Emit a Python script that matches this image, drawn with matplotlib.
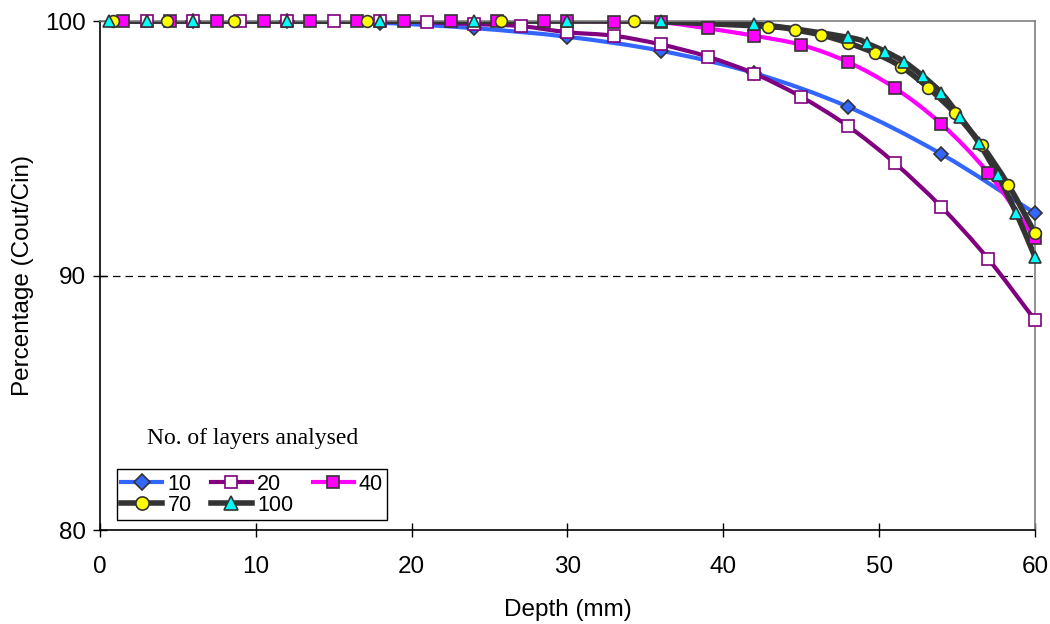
import numpy as np
import matplotlib
matplotlib.use("Agg")
import matplotlib.pyplot as plt
from matplotlib.path import Path
from matplotlib.patches import PathPatch
from matplotlib.lines import Line2D

plt.rcParams['font.family'] = ['Liberation Sans', 'DejaVu Sans']

# depth (mm) and percentage (Cout/Cin) for each number of layers analysed
x10 = [6, 12, 18, 24, 30, 36, 42, 48, 54, 60]
y10 = [100, 100, 99.93, 99.72, 99.38, 98.83, 97.95, 96.63, 94.77, 92.45]

x20 = [3, 6, 9, 12, 15, 18, 21, 24, 27, 30, 33, 36, 39, 42, 45, 48, 51, 54, 57, 60]
y20 = [100, 100, 100, 100, 100, 100, 99.95, 99.88, 99.8, 99.56, 99.42, 99.08,
       98.6, 97.93, 97.02, 95.87, 94.42, 92.69, 90.65, 88.25]

x40 = [1.5, 4.5, 7.5, 10.5, 13.5, 16.5, 19.5, 22.5, 25.5, 28.5, 30, 33, 36, 39,
       42, 45, 48, 51, 54, 57, 60]
y40 = [100, 100, 100, 100, 100, 100, 100, 100, 100, 100, 100, 99.97, 99.95,
       99.71, 99.42, 99.06, 98.39, 97.37, 95.95, 94.03, 91.47]

x70 = [0.86, 4.29, 8.57, 17.14, 25.71, 34.29, 42.86, 44.57, 46.29, 48, 49.71,
       51.43, 53.14, 54.86, 56.57, 58.29, 60]
y70 = [100, 100, 100, 100, 100, 100, 99.78, 99.65, 99.45, 99.14, 98.74, 98.2,
       97.38, 96.38, 95.13, 93.56, 91.67]

x100 = [0.6, 3, 6, 12, 18, 24, 30, 36, 42, 48, 49.2, 50.4, 51.6, 52.8, 54,
        55.2, 56.4, 57.6, 58.8, 60]
y100 = [100, 100, 100, 100, 100, 100, 100, 100, 99.88, 99.36, 99.12, 98.8,
        98.4, 97.84, 97.17, 96.23, 95.21, 93.95, 92.45, 90.73]

labels = ["10", "20", "40", "70", "100"]
ref_level = 90


def smooth_path(x, y):
    # Excel-style smoothed line: cubic Bezier through the points
    p = np.column_stack([x, y]).astype(float)
    n = len(p)
    t = np.zeros_like(p)
    t[1:-1] = (p[2:] - p[:-2]) / 2
    t[0] = p[1] - p[0]
    t[-1] = p[-1] - p[-2]
    verts = [p[0]]
    codes = [Path.MOVETO]
    for i in range(n - 1):
        verts += [p[i] + t[i] / 3, p[i + 1] - t[i + 1] / 3, p[i + 1]]
        codes += [Path.CURVE4] * 3
    return Path(verts, codes)


fig = plt.figure(figsize=(10.5, 6.24), dpi=100)
ax = fig.add_axes([0.0952, 0.1506, 0.8905, 0.8157])

styles = [
    dict(color="#3366ff", lw=3.0, marker="D", ms=7.5, mfc="#3366ff", mec="#333333"),
    dict(color="#800080", lw=3.0, marker="s", ms=8, mfc="white", mec="#800080"),
    dict(color="#ff00ff", lw=3.0, marker="s", ms=8, mfc="#ff00ff", mec="#333333"),
    dict(color="#333333", lw=4.0, marker="o", ms=8.5, mfc="#ffff00", mec="#333333"),
    dict(color="#333333", lw=4.0, marker="^", ms=9, mfc="#00ffff", mec="#333333"),
]
series = [(x10, y10), (x20, y20), (x40, y40), (x70, y70), (x100, y100)]

handles = []
for i, ((xs, ys), st, lab) in enumerate(zip(series, styles, labels)):
    ax.add_patch(PathPatch(smooth_path(xs, ys), fill=False, edgecolor=st["color"],
                           lw=st["lw"], zorder=2, capstyle="butt", joinstyle="round"))
    ax.plot(xs, ys, ls="none", marker=st["marker"], ms=st["ms"], mfc=st["mfc"],
            mec=st["mec"], mew=1.2, zorder=3 + i, clip_on=False)
    handles.append(Line2D([], [], color=st["color"], lw=st["lw"], marker=st["marker"],
                          ms=st["ms"] + 1, mfc=st["mfc"], mec=st["mec"], mew=1.2,
                          label=lab))

ax.axhline(ref_level, color="black", lw=0.9, ls=(0, (6, 4)), zorder=1)

ax.set_xlim(0, 60)
ax.set_ylim(80, 100)
ax.set_xticks(np.arange(0, 61, 10))
ax.set_yticks([80, 90, 100])
ax.tick_params(direction="inout", length=10, width=1, labelsize=17.5, color="black")
ax.tick_params(axis="x", pad=14)
ax.tick_params(axis="y", pad=5)

for s in ["left", "bottom"]:
    ax.spines[s].set_color("black")
    ax.spines[s].set_linewidth(1.2)
for s in ["top", "right"]:
    ax.spines[s].set_color("#808080")
    ax.spines[s].set_linewidth(1.2)

ax.set_xlabel("Depth (mm)", fontsize=17.5, labelpad=15)
ax.set_ylabel("Percentage (Cout/Cin)", fontsize=17.5, labelpad=8)

ax.text(0.163, 0.18, "No. of layers analysed", transform=ax.transAxes,
        family=["Liberation Serif", "DejaVu Serif"], fontsize=17,
        ha="center", va="center")

order = [0, 3, 1, 4, 2]
leg = ax.legend([handles[k] for k in order], [labels[k] for k in order],
                ncol=3, loc="lower left", bbox_to_anchor=(0.018, 0.02),
                fontsize=15.5, frameon=True, fancybox=False, edgecolor="black",
                framealpha=1, handlelength=1.9, handletextpad=0.25,
                columnspacing=0.9, labelspacing=0.0, borderpad=0.2,
                borderaxespad=0)
leg.get_frame().set_linewidth(1.0)

fig.savefig("out.png", dpi=100)
